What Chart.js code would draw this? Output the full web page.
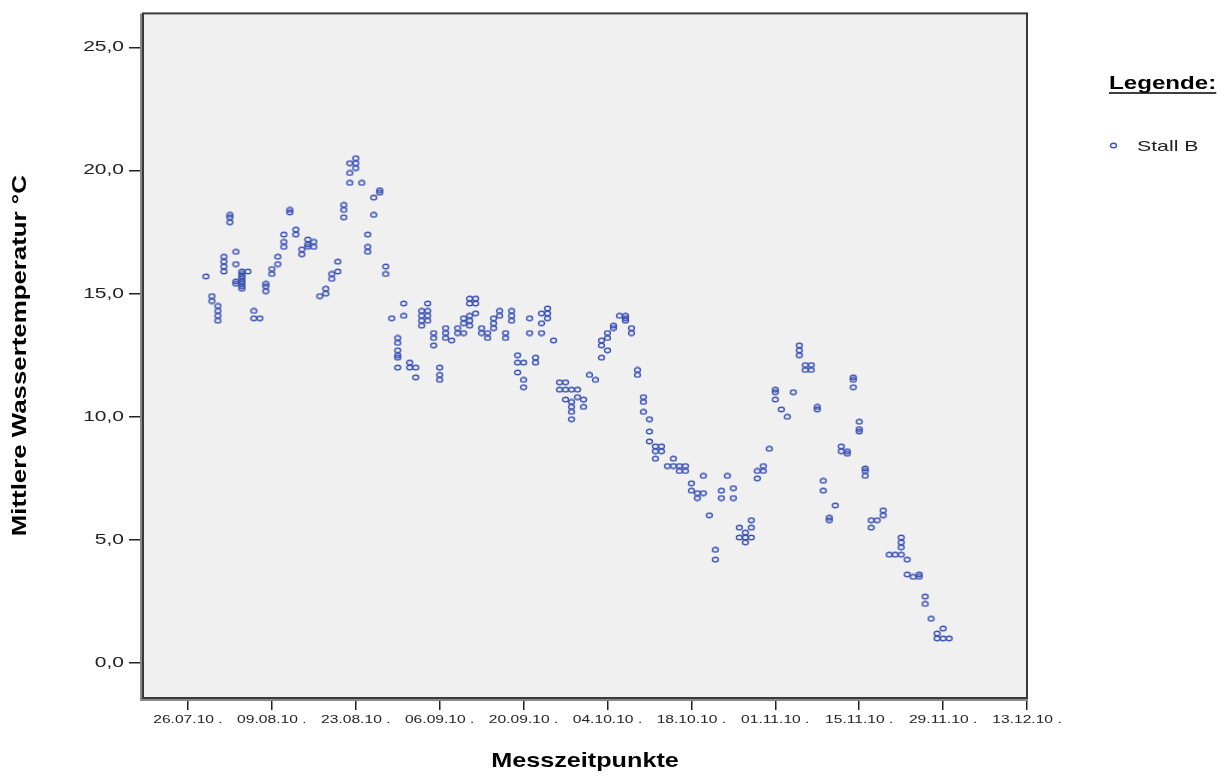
<!DOCTYPE html>
<html lang="de">
<head>
<meta charset="utf-8">
<title>Mittlere Wassertemperatur Stall B</title>
<script src="https://cdn.jsdelivr.net/npm/chart.js@4.4.0/dist/chart.umd.min.js"></script>
<style>
  html, body { margin: 0; padding: 0; background: #fff; }
  #rahmen { width: 1228px; height: 776px; position: relative; }
</style>
</head>
<body>
<div id="rahmen"><canvas id="grafikWasser"></canvas></div>
<script>
// 1. Daten (Tage ab 26.07.10, je Tag die gemessenen Werte)
const messTage = [3, 4, 5, 6, 7, 8, 9, 10, 11, 12, 13, 14, 15, 16, 17, 18, 19, 20, 21, 22,
    23, 24, 25, 26, 27, 28, 29, 30, 31, 32, 33, 34, 35, 36, 37, 38, 39, 40, 41, 42,
    43, 44, 45, 46, 47, 48, 49, 50, 51, 52, 53, 54, 55, 56, 57, 58, 59, 60, 61, 62,
    63, 64, 65, 66, 67, 68, 69, 70, 71, 72, 73, 74, 75, 76, 77, 78, 79, 80, 81, 82,
    83, 84, 85, 86, 87, 88, 89, 90, 91, 92, 93, 94, 95, 96, 97, 98, 99, 100, 101, 102,
    103, 104, 105, 106, 107, 108, 109, 110, 111, 112, 113, 114, 115, 116, 117, 118, 119, 120, 121, 122,
    123, 124, 125, 126, 127];

const stallB = [
    [15.7], [14.9, 14.7], [14.5, 14.3, 14.1, 13.9], [16.5, 16.3, 16.1, 15.9], [18.2, 18.1, 17.9],
    [16.7, 16.2, 15.5, 15.4], [15.9, 15.8, 15.7, 15.6, 15.5, 15.4, 15.3, 15.2], [15.9], [14.3, 14.0], [14.0],
    [15.4, 15.3, 15.1], [16.0, 15.8], [16.5, 16.2], [17.4, 17.1, 16.9], [18.4, 18.3],
    [17.6, 17.4], [16.8, 16.6], [17.2, 17.0, 16.9], [17.1, 16.9], [14.9],
    [15.2, 15.0], [15.8, 15.6], [16.3, 15.9], [18.6, 18.4, 18.1], [20.3, 19.9, 19.5],
    [20.5, 20.3, 20.1], [19.5], [17.4, 16.9, 16.7], [18.9, 18.2], [19.2, 19.1],
    [16.1, 15.8], [14.0], [13.2, 13.0, 12.7, 12.5, 12.4, 12.0], [14.6, 14.1], [12.2, 12.0],
    [12.0, 11.6], [14.3, 14.1, 13.9, 13.7], [14.6, 14.3, 14.1, 13.9], [13.4, 13.2, 12.9], [12.0, 11.7, 11.5],
    [13.6, 13.4, 13.2], [13.1], [13.6, 13.4], [14.0, 13.8, 13.4], [14.8, 14.6, 14.1, 13.9, 13.7],
    [14.8, 14.6, 14.2], [13.6, 13.4], [13.4, 13.2], [14.0, 13.8, 13.6], [14.3, 14.1],
    [13.4, 13.2], [14.3, 14.1, 13.9], [12.5, 12.2, 11.8], [12.2, 11.5, 11.2], [14.0, 13.4],
    [12.4, 12.2], [14.2, 13.8, 13.4], [14.4, 14.2, 14.0], [13.1], [11.4, 11.1],
    [11.4, 11.1, 10.7], [11.1, 10.6, 10.4, 10.2, 9.9], [11.1, 10.8], [10.7, 10.4], [11.7],
    [11.5], [13.1, 12.9, 12.4], [13.4, 13.2, 12.7], [13.7, 13.6], [14.1],
    [14.1, 14.0, 13.9], [13.6, 13.4], [11.9, 11.7], [10.8, 10.6, 10.2], [9.9, 9.4, 9.0],
    [8.8, 8.6, 8.3], [8.8, 8.6], [8.0], [8.3, 8.0], [8.0, 7.8],
    [8.0, 7.8], [7.3, 7.0], [6.9, 6.7], [7.6, 6.9], [6.0],
    [4.6, 4.2], [7.0, 6.7], [7.6], [7.1, 6.7], [5.5, 5.1],
    [5.3, 5.1, 4.9], [5.8, 5.5, 5.1], [7.8, 7.5], [8.0, 7.8], [8.7],
    [11.1, 11.0, 10.7], [10.3], [10.0], [11.0], [12.9, 12.7, 12.5],
    [12.1, 11.9], [12.1, 11.9], [10.4, 10.3], [7.4, 7.0], [5.9, 5.8],
    [6.4], [8.8, 8.6], [8.6, 8.5], [11.6, 11.5, 11.2], [9.8, 9.5, 9.4],
    [7.9, 7.8, 7.6], [5.8, 5.5], [5.8], [6.2, 6.0], [4.4],
    [4.4], [5.1, 4.9, 4.7, 4.4], [4.2, 3.6], [3.5], [3.6, 3.5],
    [2.7, 2.4], [1.8], [1.2, 1.0], [1.4, 1.0], [1.0]
];

const achsenTage = [0, 14, 28, 42, 56, 70, 84, 98, 112, 126, 140];
const achsenDaten = ['26.07.10 .', '09.08.10 .', '23.08.10 .', '06.09.10 .', '20.09.10 .', '04.10.10 .',
    '18.10.10 .', '01.11.10 .', '15.11.10 .', '29.11.10 .', '13.12.10 .'];
const temperaturTicks = [0, 5, 10, 15, 20, 25];

// 2. Punkte aufbauen
const punkte = [];
messTage.forEach(function(tag, i) {
    stallB[i].forEach(function(wert) {
        punkte.push({ x: tag, y: wert });
    });
});

const farbe = '#3A51B4';

// kleiner Ring, etwas breiter als hoch (wie im Original)
function ringMarker() {
    const c = document.createElement('canvas');
    c.width = 9;
    c.height = 7;
    const g = c.getContext('2d');
    g.strokeStyle = farbe;
    g.lineWidth = 1.4;
    g.beginPath();
    g.ellipse(4.5, 3.5, 3.0, 2.3, 0, 0, Math.PI * 2);
    g.stroke();
    return c;
}
const marker = ringMarker();

// Schrift im Original ist in Laufrichtung gestreckt
const fillTextOrig = CanvasRenderingContext2D.prototype.fillText;
function gestreckt(c, faktor, zeichnen) {
    c.fillText = function(text, x, y) {
        c.save();
        c.translate(x, y);
        c.scale(faktor, 1);
        fillTextOrig.call(c, text, 0, 0);
        c.restore();
    };
    zeichnen();
    delete c.fillText;
}

function strecken(scale, labelFaktor, titelFaktor) {
    if (scale._gestreckt) return;
    scale._gestreckt = true;
    const labels = scale.drawLabels;
    const titel = scale.drawTitle;
    scale.drawLabels = function(area) {
        gestreckt(this.ctx, labelFaktor, () => labels.call(this, area));
    };
    scale.drawTitle = function() {
        gestreckt(this.ctx, titelFaktor, () => titel.call(this));
    };
}

// 3. Hintergrund, Rahmen und Legende
const rahmenPlugin = {
    id: 'rahmenPlugin',
    beforeDraw(chart) {
        const { ctx, chartArea: a } = chart;
        ctx.save();
        ctx.fillStyle = '#ffffff';
        ctx.fillRect(0, 0, chart.width, chart.height);
        ctx.fillStyle = '#F0F0F0';
        ctx.fillRect(a.left, a.top, a.right - a.left, a.bottom - a.top);
        ctx.restore();
    },
    afterDraw(chart) {
        const { ctx, chartArea: a } = chart;
        ctx.save();
        ctx.strokeStyle = '#3a3a3a';
        ctx.lineWidth = 2;
        ctx.strokeRect(a.left, a.top, a.right - a.left, a.bottom - a.top);
        ctx.strokeStyle = '#8a8a8a';
        ctx.beginPath();
        ctx.moveTo(a.left - 2, a.top);
        ctx.lineTo(a.left - 2, a.bottom + 2);
        ctx.lineTo(a.right, a.bottom + 2);
        ctx.stroke();

        // Legende
        ctx.fillStyle = '#000';
        ctx.font = 'bold 19px "Liberation Sans", Arial, sans-serif';
        ctx.textBaseline = 'alphabetic';
        ctx.textAlign = 'left';
        const fLeg = 1.27;
        gestreckt(ctx, fLeg, () => ctx.fillText('Legende:', 1109, 89));
        const breite = ctx.measureText('Legende:').width * fLeg;
        ctx.lineWidth = 1.6;
        ctx.strokeStyle = '#000';
        ctx.beginPath();
        ctx.moveTo(1109, 93);
        ctx.lineTo(1109 + breite, 93);
        ctx.stroke();

        ctx.drawImage(marker, 1109, 142);
        ctx.fillStyle = '#222';
        ctx.font = '15px "Liberation Sans", Arial, sans-serif';
        gestreckt(ctx, 1.42, () => ctx.fillText(chart.data.datasets[0].label, 1137, 151));
        ctx.restore();
    }
};

// 4. Grafik
const ctx = document.getElementById('grafikWasser').getContext('2d');
const grafikWasser = new Chart(ctx, {
    type: 'scatter',
    data: {
        datasets: [{
            label: 'Stall B',
            data: punkte,
            pointStyle: marker,
            pointRadius: 3,
            pointHoverRadius: 3
        }]
    },
    options: {
        responsive: true,
        maintainAspectRatio: false,
        animation: false,
        layout: { padding: { top: 12, right: 201, left: 0, bottom: 0 } },
        plugins: {
            legend: { display: false },
            tooltip: { enabled: false }
        },
        scales: {
            x: {
                type: 'linear',
                min: -7.5,
                max: 140,
                afterBuildTicks: function(scale) {
                    scale.ticks = achsenTage.map(function(v) { return { value: v }; });
                },
                afterFit: function(scale) {
                    scale.height = 78;
                    strecken(scale, 1.42, 1.2);
                },
                grid: { drawOnChartArea: false, drawTicks: true, tickLength: 12, color: '#222', lineWidth: 1.5 },
                border: { display: false },
                ticks: {
                    autoSkip: false,
                    maxRotation: 0,
                    padding: 3,
                    color: '#222',
                    font: { family: '"Liberation Sans", Arial, sans-serif', size: 11 },
                    callback: function(wert) {
                        const i = achsenTage.indexOf(wert);
                        return i >= 0 ? achsenDaten[i] : '';
                    }
                },
                title: {
                    display: true,
                    text: 'Messzeitpunkte',
                    color: '#000',
                    font: { family: '"Liberation Sans", Arial, sans-serif', size: 21, weight: 'bold' },
                    padding: { top: 0, bottom: 2 }
                }
            },
            y: {
                type: 'linear',
                min: -1.42,
                max: 26.38,
                afterBuildTicks: function(scale) {
                    scale.ticks = temperaturTicks.map(function(v) { return { value: v }; });
                },
                afterFit: function(scale) {
                    scale.width = 143;
                    strecken(scale, 1.5, 1.23);
                },
                grid: { drawOnChartArea: false, drawTicks: true, tickLength: 14, color: '#222', lineWidth: 1.5 },
                border: { display: false },
                ticks: {
                    padding: 5,
                    color: '#222',
                    font: { family: '"Liberation Sans", Arial, sans-serif', size: 14 },
                    callback: function(wert) { return wert.toFixed(1).replace('.', ','); }
                },
                title: {
                    display: true,
                    text: 'Mittlere Wassertemperatur °C',
                    color: '#000',
                    font: { family: '"Liberation Sans", Arial, sans-serif', size: 21, weight: 'bold' },
                    padding: { top: 8, bottom: 0 }
                }
            }
        }
    },
    plugins: [rahmenPlugin]
});
</script>
</body>
</html>
